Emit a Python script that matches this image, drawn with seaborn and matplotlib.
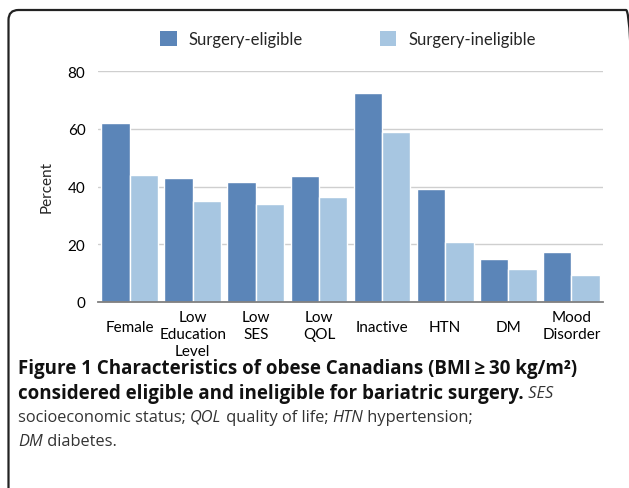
import pandas as pd
import matplotlib.pyplot as plt
import seaborn as sns
from matplotlib.patches import FancyBboxPatch, Patch

# Data
categories = ['Female', 'Low\nEducation\nLevel', 'Low\nSES', 'Low\nQOL',
              'Inactive', 'HTN', 'DM', 'Mood\nDisorder']
eligible = [62.0, 43.0, 41.5, 43.5, 72.5, 39.2, 15.0, 17.2]
ineligible = [44.0, 35.0, 34.0, 36.3, 58.8, 20.7, 11.4, 9.2]
groups = ['Surgery-eligible', 'Surgery-ineligible']
yticks = [0, 20, 40, 60, 80]

colors = ['#5b85b8', '#a7c6e1']

df = pd.DataFrame({
    'Category': categories * 2,
    'Group': [groups[0]] * len(categories) + [groups[1]] * len(categories),
    'Percent': eligible + ineligible,
})

sns.set_style('white')
plt.rcParams['font.family'] = ['Lato', 'DejaVu Sans']

W, H = 629, 489
fig = plt.figure(figsize=(W / 100, H / 100), dpi=100)
ax = fig.add_axes([98 / W, 1 - 303 / H, (603 - 98) / W, (303 - 72) / H])

sns.barplot(data=df, x='Category', y='Percent', hue='Group', palette=colors,
            width=0.9, saturation=1, ax=ax, legend=False, zorder=3)

ax.set_xlim(-0.5, len(categories) - 0.5)
ax.set_ylim(0, 80)
ax.set_yticks(yticks)
ax.yaxis.grid(True, color='#cfcfcf', lw=1.0)
ax.set_axisbelow(True)
for s in ['top', 'right', 'left']:
    ax.spines[s].set_visible(False)
ax.spines['bottom'].set_color('#7f7f7f')
ax.spines['bottom'].set_linewidth(1.3)
ax.spines['bottom'].set_zorder(4)

ax.tick_params(axis='both', length=0, labelsize=11, colors='black')
ax.tick_params(axis='y', pad=9)
ax.set_xlabel('')
ax.set_ylabel('Percent', fontsize=11, labelpad=10)
for lab in ax.get_xticklabels():
    lab.set_linespacing(1.25)
for tick, cat in zip(ax.xaxis.get_major_ticks(), categories):
    tick.set_pad(13 if '\n' not in cat else 6)

# Legend across the top
handles = [Patch(facecolor=c, edgecolor='none') for c in colors]
fig.legend(handles, groups, loc='center', bbox_to_anchor=(348 / W, 1 - 40 / H),
           ncol=2, frameon=False, fontsize=12, handlelength=1.0, handleheight=1.0,
           columnspacing=4.6, handletextpad=0.7)

# Rounded frame around the panel (right side runs off the image)
frame = FancyBboxPatch((0.085, -0.5), 6.36 - 0.085, 4.78 + 0.5,
                       boxstyle='round,pad=0,rounding_size=0.1',
                       transform=fig.dpi_scale_trans, fill=False,
                       ec='#222222', lw=1.6)
fig.patches.append(frame)

# Caption with mixed styles
cap_font = ['Open Sans', 'DejaVu Sans']
lines = [
    [('Figure 1 Characteristics of obese Canadians (BMI\u2009\u2265\u200930 kg/m\u00b2)', 'bold', 'normal')],
    [('considered eligible and ineligible for bariatric surgery.', 'bold', 'normal'),
     (' SES', 'normal', 'italic')],
    [('socioeconomic status; ', 'normal', 'normal'), ('QOL', 'normal', 'italic'),
     (' quality of life; ', 'normal', 'normal'), ('HTN', 'normal', 'italic'),
     (' hypertension;', 'normal', 'normal')],
    [('DM', 'normal', 'italic'), (' diabetes.', 'normal', 'normal')],
]
renderer = fig.canvas.get_renderer()
y_px = [369, 394, 418, 442]
for parts, yp in zip(lines, y_px):
    x = 18
    for txt, weight, style in parts:
        size = 13.5 if weight == 'bold' else 11.8
        t = fig.text(x / W, 1 - yp / H, txt, fontsize=size, fontweight=weight,
                     fontstyle=style, family=cap_font, va='center', ha='left',
                     color='#111111' if weight == 'bold' else '#333333')
        bb = t.get_window_extent(renderer=renderer)
        x += bb.width

fig.savefig('out.png', dpi=100)
